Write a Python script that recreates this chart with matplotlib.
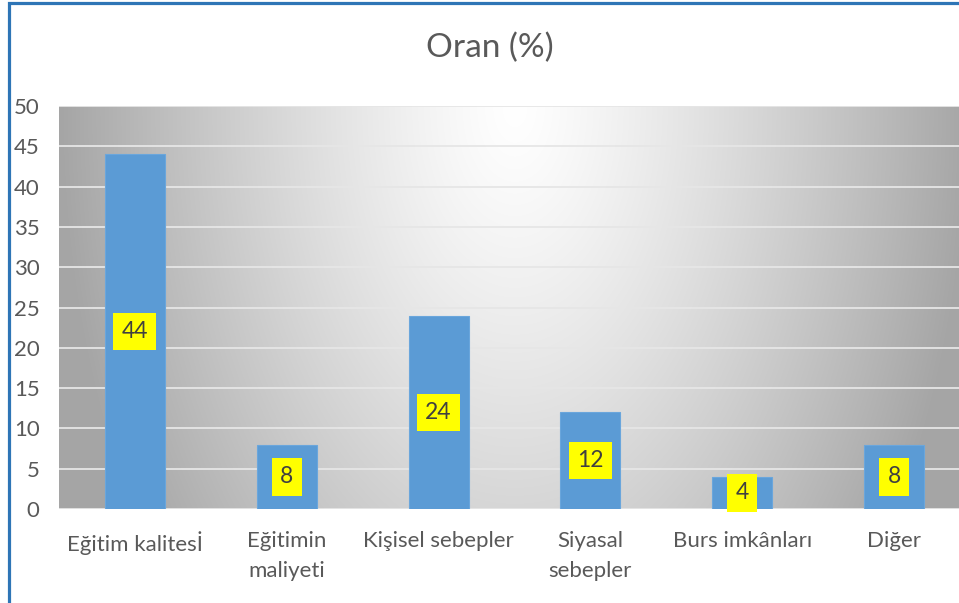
import numpy as np
import matplotlib
matplotlib.use("Agg")
import matplotlib.pyplot as plt
from matplotlib.patches import Rectangle

categories = ["Eğitim kalitesİ", "Eğitimin\nmaliyeti", "Kişisel sebepler",
              "Siyasal\nsebepler", "Burs imkânları", "Diğer"]
values = [44, 8, 24, 12, 4, 8]
yticks = [0, 5, 10, 15, 20, 25, 30, 35, 40, 45, 50]
title = "Oran (%)"

plt.rcParams['font.family'] = ['Lato', 'DejaVu Sans']

W, H = 959, 603
fig = plt.figure(figsize=(W / 100, H / 100), dpi=100)
fig.patch.set_facecolor('white')

ax_l, ax_r, ax_t, ax_b = 59, 970, 106, 509
ax = fig.add_axes([ax_l / W, (H - ax_b) / H, (ax_r - ax_l) / W, (ax_b - ax_t) / H])
ax.set_xlim(-0.5, len(categories) - 0.5)
ax.set_ylim(0, 50)

# radial gradient background (light at top centre)
pw, ph = ax_r - ax_l, ax_b - ax_t
xx, yy = np.meshgrid(np.arange(pw), np.arange(ph))
dx = (xx - pw / 2) / (pw / 2)
dy = yy / 760.0
r = np.minimum(1.0, np.sqrt(dx ** 2 + dy ** 2))
g = (255 - 90 * r ** 1.25) / 255.0
img = np.dstack([g, g, g])
ax.imshow(img, extent=(-0.5, len(categories) - 0.5, 0, 50), origin='upper',
          aspect='auto', zorder=0, interpolation='bilinear')
ax.set_xlim(-0.5, len(categories) - 0.5)
ax.set_ylim(0, 50)

for yv in yticks:
    ax.axhline(yv, color='#e6e6e6', lw=1.3, zorder=1)

x = np.arange(len(categories))
bars = ax.bar(x, values, width=0.395, color='#5B9BD5', edgecolor='#6aa6dc',
              linewidth=0.8, zorder=2)

for xi, v in zip(x, values):
    ax.text(xi, v / 2, str(v), ha='center', va='center', fontsize=16.5,
            color='#404040', zorder=3,
            bbox=dict(boxstyle='square,pad=0.36', facecolor='#FFFF00',
                      edgecolor='none'))

ax.set_xticks(x)
ax.set_xticklabels(categories, fontsize=16, color='#595959', linespacing=1.6)
ax.set_yticks(yticks)
ax.set_yticklabels([str(t) for t in yticks], fontsize=16, color='#595959')
ax.tick_params(axis='x', length=0, pad=16)
ax.tick_params(axis='y', length=0, pad=14)
for s in ax.spines.values():
    s.set_visible(False)

fig.text(490 / W, 1 - 48 / H, title, ha='center', va='center',
         fontsize=24, color='#595959')

border = Rectangle((9 / W, -0.1), 2.0, 1 - 3 / H + 0.1, transform=fig.transFigure,
                   fill=False, edgecolor='#2E75B6', linewidth=2.3, zorder=10)
fig.patches.append(border)

fig.savefig('out.png', dpi=100, facecolor='white')
